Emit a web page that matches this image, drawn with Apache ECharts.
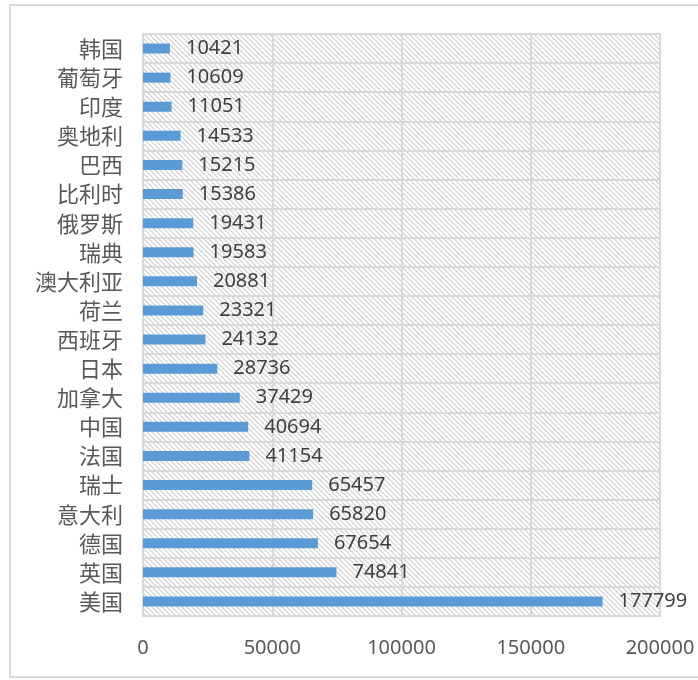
<!DOCTYPE html>
<html><head><meta charset="utf-8">
<script src="https://cdn.jsdelivr.net/npm/echarts@6/dist/echarts.min.js"></script>
<style>html,body{margin:0;padding:0;background:#fff}#c{width:698px;height:680px}</style>
</head><body><div id="c"></div>
<script>
var categories = ['美国','英国','德国','意大利','瑞士','法国','中国','加拿大','日本','西班牙','荷兰','澳大利亚','瑞典','俄罗斯','比利时','巴西','奥地利','印度','葡萄牙','韩国'];
var values = [177799,74841,67654,65820,65457,41154,40694,37429,28736,24132,23321,20881,19583,19431,15386,15215,14533,11051,10609,10421];
var xTicks = [0,50000,100000,150000,200000];

var pc = document.createElement('canvas');
pc.width = 5; pc.height = 5;
var ctx = pc.getContext('2d');
ctx.fillStyle = '#ffffff'; ctx.fillRect(0,0,5,5);
ctx.strokeStyle = '#cfcfcf'; ctx.lineWidth = 1.2;
ctx.beginPath(); ctx.moveTo(-1,-1); ctx.lineTo(6,6); ctx.stroke();
ctx.beginPath(); ctx.moveTo(-1,4); ctx.lineTo(1,6); ctx.stroke();
ctx.beginPath(); ctx.moveTo(4,-1); ctx.lineTo(6,1); ctx.stroke();

var chart = echarts.init(document.getElementById('c'));
var cjk = '"Noto Sans CJK SC", sans-serif';
var num = '"Noto Sans", sans-serif';
chart.setOption({
  animation: false,
  graphic: [{type:'rect', shape:{x:10,y:5,width:700,height:672}, style:{fill:'none', stroke:'#d9d9d9', lineWidth:2}, z:-1}],
  grid: {left:143, right:38, top:34, bottom:64, show:true, backgroundColor:{image:pc, repeat:'repeat'}, borderColor:'#d9d9d9', borderWidth:2},
  xAxis: {type:'value', min:xTicks[0], max:xTicks[xTicks.length-1], interval:50000,
    axisLine:{show:false}, axisTick:{show:false},
    splitLine:{show:true, lineStyle:{color:'#d9d9d9', width:2}},
    axisLabel:{color:'#595959', fontSize:20, fontFamily:num, margin:22, formatter:function(v){return String(v);}}},
  yAxis: {type:'category', data:categories,
    axisLine:{show:false}, axisTick:{show:false},
    splitLine:{show:true, lineStyle:{color:'#d9d9d9', width:2}},
    axisLabel:{color:'#595959', fontSize:22, fontFamily:cjk, margin:20}},
  series: [{type:'bar', data:values, barWidth:10, itemStyle:{color:'#5b9bd5'},
    label:{show:true, position:'right', distance:16, color:'#404040', fontSize:20, fontFamily:num}}]
});
</script></body></html>
